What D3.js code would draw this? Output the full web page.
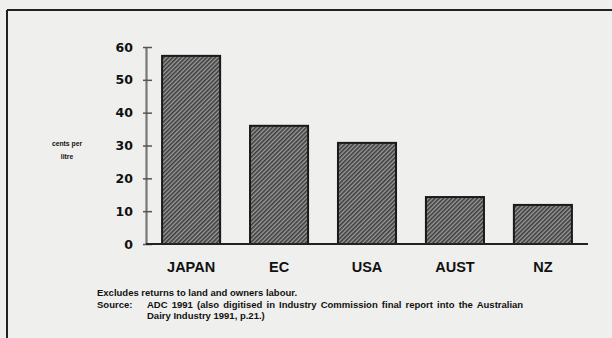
<!DOCTYPE html>
<html>
<head>
<meta charset="utf-8">
<script src="https://cdn.jsdelivr.net/npm/d3@7"></script>
<style>
  html, body { margin: 0; padding: 0; background: #efefed; }
  svg { display: block; }
  text { font-family: "Liberation Sans", Arial, sans-serif; font-weight: bold; fill: #111; }
</style>
</head>
<body>
<svg id="chart" width="612" height="338"></svg>
<script>
// Milk production cost by region, cents per litre
const categories = ["JAPAN", "EC", "USA", "AUST", "NZ"];
const costs = [57.3, 36, 30.8, 14.3, 11.9];
const yTicks = [0, 10, 20, 30, 40, 50, 60];
const axisTitle = ["cents per", "litre"];
const notes = [
  "Excludes returns to land and owners labour.",
  "Source:",
  "ADC 1991 (also digitised in Industry Commission final report into the Australian",
  "Dairy Industry 1991, p.21.)"
];

const svg = d3.select("#chart");

// Hatched fill for the bars
const defs = svg.append("defs");
const pat = defs.append("pattern")
  .attr("id", "hatch")
  .attr("patternUnits", "userSpaceOnUse")
  .attr("width", 3).attr("height", 3)
  .attr("patternTransform", "rotate(45)");
pat.append("rect").attr("width", 3).attr("height", 3).attr("fill", "#9c9c9c");
pat.append("rect").attr("width", 1.6).attr("height", 3).attr("fill", "#3c3c3c");

// Page frame: top and left rules
svg.append("line").attr("x1", 7).attr("x2", 612).attr("y1", 10).attr("y2", 10)
  .attr("stroke", "#222").attr("stroke-width", 2);
svg.append("line").attr("x1", 7).attr("x2", 7).attr("y1", 10).attr("y2", 338)
  .attr("stroke", "#222").attr("stroke-width", 2);

const x = d3.scaleBand()
  .domain(categories)
  .range([148, 586])
  .paddingInner(0.34)
  .paddingOuter(0.16);

const y = d3.scaleLinear()
  .domain([0, 60])
  .range([244, 47]);

// Bars
svg.append("g").selectAll("rect")
  .data(categories)
  .join("rect")
  .attr("x", d => x(d))
  .attr("y", (d, i) => y(costs[i]))
  .attr("width", x.bandwidth())
  .attr("height", (d, i) => y(0) - y(costs[i]))
  .attr("fill", "url(#hatch)")
  .attr("stroke", "#1a1a1a")
  .attr("stroke-width", 2);

// Y axis
const yAxis = svg.append("g")
  .attr("transform", "translate(146,0)")
  .call(d3.axisLeft(y).tickValues(yTicks).tickSize(3).tickSizeOuter(0).tickPadding(10));
yAxis.select(".domain").attr("stroke", "#777").attr("stroke-width", 2.2);
yAxis.selectAll(".tick line").attr("stroke", "#555").attr("stroke-width", 1.5).attr("x2", 6).attr("x1", -3);
yAxis.selectAll(".tick text")
  .style("font-family", "'DejaVu Sans', sans-serif")
  .style("font-size", "12.5px").attr("fill", "#111");

// X axis baseline
const xAxis = svg.append("g")
  .attr("transform", `translate(0,${y(0)})`)
  .call(d3.axisBottom(x).tickSize(0).tickPadding(18));
xAxis.select(".domain").attr("d", "M146,0H588").attr("stroke", "#222").attr("stroke-width", 2);
xAxis.selectAll(".tick text").style("font-size", "14.5px").attr("fill", "#111");

// Axis title
svg.append("g").selectAll("text")
  .data(axisTitle)
  .join("text")
  .attr("x", 67).attr("y", (d, i) => 146 + i * 13)
  .attr("text-anchor", "middle")
  .style("font-size", "6.8px")
  .text(d => d);

// Footnotes
const fn = svg.append("g").style("font-size", "9.5px");
fn.append("text").attr("x", 97).attr("y", 296).text(notes[0]);
fn.append("text").attr("x", 97).attr("y", 308).text(notes[1]);
fn.append("text").attr("x", 147).attr("y", 308).style("word-spacing", "1.5px").text(notes[2]);
fn.append("text").attr("x", 147).attr("y", 319).text(notes[3]);
</script>
</body>
</html>
